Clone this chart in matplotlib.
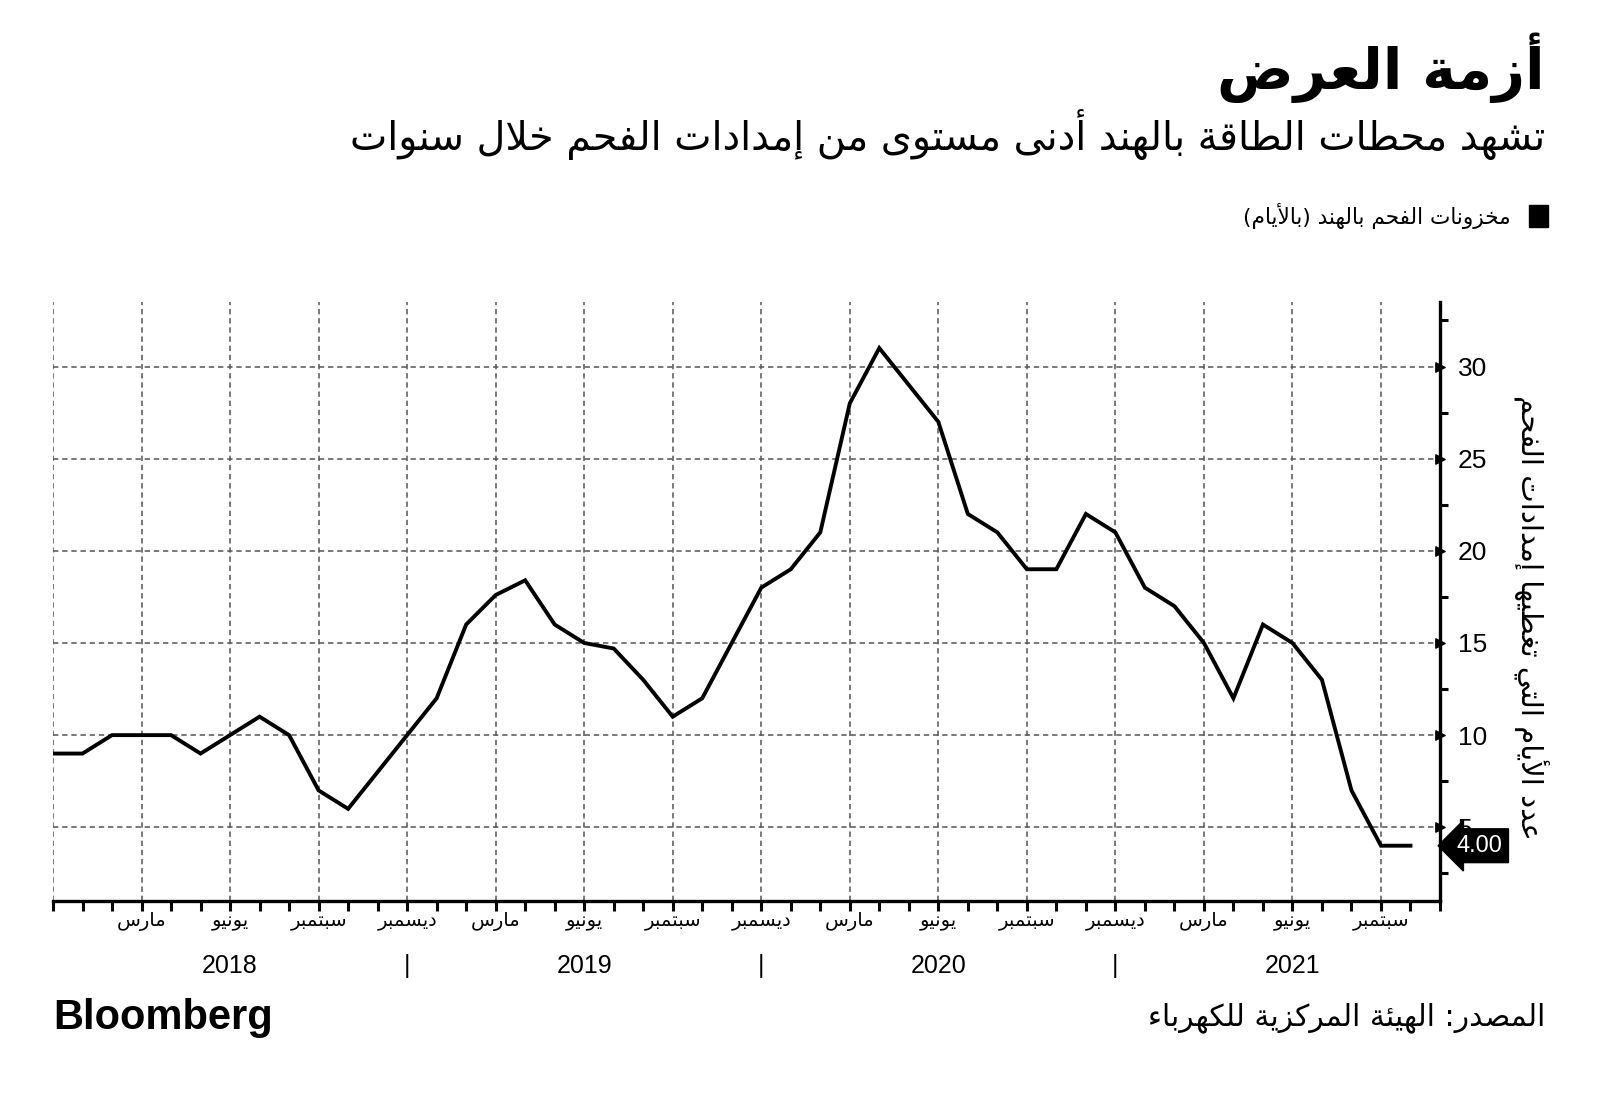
import matplotlib
matplotlib.use("Agg")
import matplotlib.pyplot as plt
import numpy as np

# ---------------- data ----------------
stock_days = [9, 9, 10, 10, 10, 9, 10, 11, 10, 7, 6, 8,
              10, 12, 16, 17.6, 18.4, 16, 15, 14.7, 13, 11, 12, 15,
              18, 19, 21, 28, 31, 29, 27, 22, 21, 19, 19, 22,
              21, 18, 17, 15, 12, 16, 15, 13, 7, 4, 4]
month_labels = ["مارس", "يونيو", "سبتمبر", "ديسمبر"]
year_labels = ["2018", "2019", "2020", "2021"]
y_ticks = [5, 10, 15, 20, 25, 30]
last_label = "4.00"

title = "أزمة العرض"
subtitle = "تشهد محطات الطاقة بالهند أدنى مستوى من إمدادات الفحم خلال سنوات"
legend_label = "مخزونات الفحم بالهند (بالأيام)"
ylabel = "عدد الأيام التي تغطيها إمدادات الفحم"
source = "المصدر: الهيئة المركزية للكهرباء"

# ---------------- simple Arabic shaping ----------------
_DUAL = {
    'ئ': 0xFE89, 'ب': 0xFE8F, 'ت': 0xFE95, 'ث': 0xFE99, 'ج': 0xFE9D, 'ح': 0xFEA1,
    'خ': 0xFEA5, 'س': 0xFEB1, 'ش': 0xFEB5, 'ص': 0xFEB9, 'ض': 0xFEBD, 'ط': 0xFEC1,
    'ظ': 0xFEC5, 'ع': 0xFEC9, 'غ': 0xFECD, 'ف': 0xFED1, 'ق': 0xFED5, 'ك': 0xFED9,
    'ل': 0xFEDD, 'م': 0xFEE1, 'ن': 0xFEE5, 'ه': 0xFEE9, 'ي': 0xFEF1,
}
_RIGHT = {
    'آ': 0xFE81, 'أ': 0xFE83, 'ؤ': 0xFE85, 'إ': 0xFE87, 'ا': 0xFE8D, 'ة': 0xFE93,
    'د': 0xFEA9, 'ذ': 0xFEAB, 'ر': 0xFEAD, 'ز': 0xFEAF, 'و': 0xFEED, 'ى': 0xFEEF,
}
_NONJ = {'ء': 0xFE80}
_LAMALEF = {'آ': 0xFEF5, 'أ': 0xFEF7, 'إ': 0xFEF9, 'ا': 0xFEFB}
_MIRROR = {'(': ')', ')': '('}


def ar(text):
    toks = []
    i = 0
    while i < len(text):
        c = text[i]
        if c == 'ل' and i + 1 < len(text) and text[i + 1] in _LAMALEF:
            toks.append(('R', _LAMALEF[text[i + 1]]))
            i += 2
            continue
        if c in _DUAL:
            toks.append(('D', _DUAL[c]))
        elif c in _RIGHT:
            toks.append(('R', _RIGHT[c]))
        elif c in _NONJ:
            toks.append(('N', _NONJ[c]))
        else:
            toks.append((None, c))
        i += 1
    out = []
    for k, (kind, base) in enumerate(toks):
        if kind is None:
            out.append(_MIRROR.get(base, base))
            continue
        if kind == 'N':
            out.append(chr(base))
            continue
        cp = k > 0 and toks[k - 1][0] == 'D'
        cn = kind == 'D' and k + 1 < len(toks) and toks[k + 1][0] in ('D', 'R')
        if cp and cn:
            out.append(chr(base + 3))
        elif cp:
            out.append(chr(base + 1))
        elif cn:
            out.append(chr(base + 2))
        else:
            out.append(chr(base))
    return ''.join(reversed(out))


AR = ['DejaVu Sans']
NUM = ['Liberation Sans', 'DejaVu Sans']

# ---------------- figure ----------------
W, H = 1600, 1097
fig = plt.figure(figsize=(W / 100, H / 100), dpi=100)
L, R, T, B = 53, 1440, 302, 901
ax = fig.add_axes([L / W, 1 - B / H, (R - L) / W, (B - T) / H])

x = np.arange(len(stock_days))
ax.set_xlim(0, 47)
ax.set_ylim(1, 33.5)

# grid
for yv in y_ticks:
    ax.axhline(yv, color='#555555', lw=1.1, ls=(0, (3.5, 2.5)), zorder=1)
for xv in range(0, 47, 3):
    ax.axvline(xv, color='#555555', lw=1.1, ls=(0, (3.5, 2.5)), zorder=1)

ax.plot(x, stock_days, color='black', lw=2.8, solid_joinstyle='miter', zorder=3)

# spines
for s in ['top', 'left']:
    ax.spines[s].set_visible(False)
ax.spines['bottom'].set_linewidth(2.4)
ax.spines['right'].set_linewidth(2.4)
ax.spines['bottom'].set_capstyle('projecting')

# x ticks
ax.set_xticks(np.arange(0, 48))
ax.tick_params(axis='x', which='major', length=7, width=2.2, direction='out', labelbottom=False)
for k, xv in enumerate(range(3, 47, 3)):
    ax.text(xv, -0.035, ar(month_labels[k % 4]), transform=ax.get_xaxis_transform(),
            ha='center', va='center', fontsize=14, family=AR)
for k, xv in enumerate([6, 18, 30, 42]):
    ax.text(xv, -0.108, year_labels[k], transform=ax.get_xaxis_transform(),
            ha='center', va='center', fontsize=18, family=NUM)
for xv in [12, 24, 36]:
    ax.text(xv, -0.108, '|', transform=ax.get_xaxis_transform(),
            ha='center', va='center', fontsize=18, family=NUM)

# y ticks on right
ax.yaxis.tick_right()
ax.set_yticks(y_ticks)
ax.set_yticklabels([str(v) for v in y_ticks], family=NUM, fontsize=19)
ax.set_yticks(np.arange(2.5, 33.5, 5), minor=True)
ax.tick_params(axis='y', which='major', length=0, pad=13)
ax.tick_params(axis='y', which='minor', length=6, width=2.2, direction='out')
ax.tick_params(axis='y', which='both', left=False)
ax.scatter([1.0] * len(y_ticks), y_ticks, marker='>', s=45, color='black',
           transform=ax.get_yaxis_transform(), clip_on=False, zorder=5)

# last value label
ax.annotate(last_label, xy=(1.0, stock_days[-1]), xycoords=('axes fraction', 'data'),
            xytext=(12, 0), textcoords='offset points', ha='left', va='center',
            color='white', fontsize=17, family=NUM,
            bbox=dict(boxstyle='larrow,pad=0.25', fc='black', ec='black'), zorder=6,
            annotation_clip=False)

# y label
fig.text(1531 / W, 1 - 617 / H, ar(ylabel), rotation=270, ha='center', va='center',
         fontsize=21, family=AR)

# titles
fig.text(1545 / W, 1 - 68 / H, ar(title), ha='right', va='center', fontsize=41,
         fontweight='bold', family=AR)
fig.text(1545 / W, 1 - 134 / H, ar(subtitle), ha='right', va='center', fontsize=28.5,
         family=AR)

# legend
fig.patches.append(plt.Rectangle((1529 / W, 1 - 227 / H), 19 / W, 22 / H,
                                 transform=fig.transFigure, color='black'))
fig.text(1511 / W, 1 - 216 / H, ar(legend_label), ha='right', va='center',
         fontsize=15.6, family=AR)

# footer
fig.text(53 / W, 1 - 1018 / H, 'Bloomberg', ha='left', va='center', fontsize=30,
         fontweight='bold', family=NUM)
fig.text(1545 / W, 1 - 1018 / H, ar(source), ha='right', va='center', fontsize=21.4,
         family=AR)

fig.savefig('out.png', dpi=100, facecolor='white')
